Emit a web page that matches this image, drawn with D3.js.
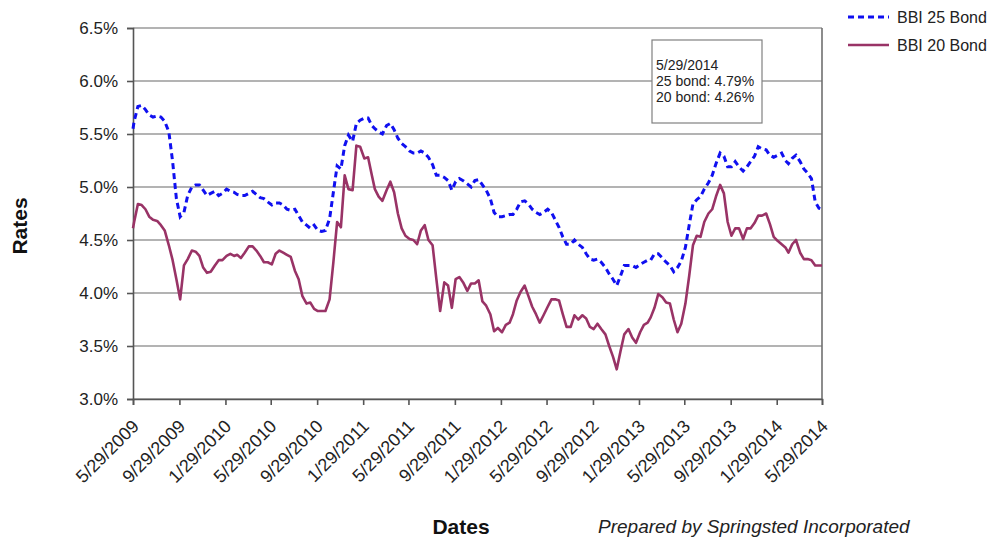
<!DOCTYPE html>
<html lang="en">
<head>
    <meta charset="UTF-8">
    <title>BBI 25 / BBI 20 Bond Rates</title>
    <style>
        body
        {
            margin: 0;
            background: #ffffff;
        }

        text
        {
            font-family: "Liberation Sans", Arial, sans-serif;
            fill: #222222;
        }

        .tick-label
        {
            font-size: 17px;
        }

        .axis-title
        {
            font-size: 21px;
            font-weight: bold;
            fill: #111111;
        }
    </style>
</head>
<body>

    <svg width="990" height="538"></svg>

    <script src="https://d3js.org/d3.v7.min.js"></script>

    <script>

        // Dates of the readings (about every ten days)
        const dates = [
            '2009-05-29', '2009-06-01', '2009-06-11', '2009-06-21', '2009-07-01', '2009-07-11', '2009-07-21',
            '2009-08-01', '2009-08-11', '2009-08-21', '2009-09-01', '2009-09-11', '2009-09-21',
            '2009-10-01', '2009-10-11', '2009-10-21', '2009-11-01', '2009-11-11', '2009-11-21',
            '2009-12-01', '2009-12-11', '2009-12-21', '2010-01-01', '2010-01-11', '2010-01-21',
            '2010-02-01', '2010-02-11', '2010-02-21', '2010-03-01', '2010-03-11', '2010-03-21',
            '2010-04-01', '2010-04-11', '2010-04-21', '2010-05-01', '2010-05-11', '2010-05-21',
            '2010-06-01', '2010-06-11', '2010-06-21', '2010-07-01', '2010-07-11', '2010-07-21',
            '2010-08-01', '2010-08-11', '2010-08-21', '2010-09-01', '2010-09-11', '2010-09-21',
            '2010-10-01', '2010-10-11', '2010-10-21', '2010-11-01', '2010-11-11', '2010-11-21',
            '2010-12-01', '2010-12-11', '2010-12-21', '2011-01-01', '2011-01-11', '2011-01-21',
            '2011-02-01', '2011-02-11', '2011-02-21', '2011-03-01', '2011-03-11', '2011-03-21',
            '2011-04-01', '2011-04-11', '2011-04-21', '2011-05-01', '2011-05-11', '2011-05-21',
            '2011-06-01', '2011-06-11', '2011-06-21', '2011-07-01', '2011-07-11', '2011-07-21',
            '2011-08-01', '2011-08-11', '2011-08-21', '2011-09-01', '2011-09-11', '2011-09-21',
            '2011-10-01', '2011-10-11', '2011-10-21', '2011-11-01', '2011-11-11', '2011-11-21',
            '2011-12-01', '2011-12-11', '2011-12-21', '2012-01-01', '2012-01-11', '2012-01-21',
            '2012-02-01', '2012-02-11', '2012-02-21', '2012-03-01', '2012-03-11', '2012-03-21',
            '2012-04-01', '2012-04-11', '2012-04-21', '2012-05-01', '2012-05-11', '2012-05-21',
            '2012-06-01', '2012-06-11', '2012-06-21', '2012-07-01', '2012-07-11', '2012-07-21',
            '2012-08-01', '2012-08-11', '2012-08-21', '2012-09-01', '2012-09-11', '2012-09-21',
            '2012-10-01', '2012-10-11', '2012-10-21', '2012-11-01', '2012-11-11', '2012-11-21',
            '2012-12-01', '2012-12-11', '2012-12-21', '2013-01-01', '2013-01-11', '2013-01-21',
            '2013-02-01', '2013-02-11', '2013-02-21', '2013-03-01', '2013-03-11', '2013-03-21',
            '2013-04-01', '2013-04-11', '2013-04-21', '2013-05-01', '2013-05-11', '2013-05-21',
            '2013-06-01', '2013-06-11', '2013-06-21', '2013-07-01', '2013-07-11', '2013-07-21',
            '2013-08-01', '2013-08-11', '2013-08-21', '2013-09-01', '2013-09-11', '2013-09-21',
            '2013-10-01', '2013-10-11', '2013-10-21', '2013-11-01', '2013-11-11', '2013-11-21',
            '2013-12-01', '2013-12-11', '2013-12-21', '2014-01-01', '2014-01-11', '2014-01-21',
            '2014-02-01', '2014-02-11', '2014-02-21', '2014-03-01', '2014-03-11', '2014-03-21',
            '2014-04-01', '2014-04-11', '2014-04-21', '2014-05-01', '2014-05-11', '2014-05-21',
            '2014-05-29'
        ];

        // BBI 25 Bond index, percent
        const bbi25 = [
            5.55, 5.62, 5.76, 5.77, 5.73, 5.68, 5.66,
            5.67, 5.66, 5.62, 5.52, 5.24, 4.89,
            4.72, 4.76, 4.92, 5.00, 5.02, 5.02,
            4.97, 4.92, 4.94, 4.96, 4.92, 4.94,
            4.98, 4.96, 4.95, 4.93, 4.92, 4.92,
            4.94, 4.96, 4.93, 4.90, 4.89, 4.86,
            4.83, 4.85, 4.85, 4.83, 4.79, 4.78,
            4.79, 4.73, 4.67, 4.64, 4.61, 4.64,
            4.59, 4.58, 4.59, 4.70, 4.95, 5.20,
            5.17, 5.39, 5.49, 5.43, 5.60, 5.63,
            5.65, 5.65, 5.58, 5.55, 5.52, 5.50,
            5.58, 5.60, 5.54, 5.46, 5.41, 5.38,
            5.34, 5.32, 5.32, 5.34, 5.32, 5.28,
            5.21, 5.11, 5.11, 5.09, 5.06, 4.97,
            5.05, 5.08, 5.06, 5.03, 5.00, 5.06,
            5.07, 5.02, 4.97, 4.89, 4.76, 4.72,
            4.72, 4.73, 4.74, 4.74, 4.79, 4.86,
            4.87, 4.84, 4.79, 4.76, 4.74, 4.76,
            4.79, 4.76, 4.69, 4.62, 4.53, 4.46,
            4.46, 4.50, 4.46, 4.43, 4.37, 4.32,
            4.31, 4.32, 4.29, 4.24, 4.18, 4.13,
            4.07, 4.16, 4.26, 4.26, 4.26, 4.24,
            4.27, 4.29, 4.31, 4.31, 4.37, 4.37,
            4.33, 4.29, 4.26, 4.20, 4.24, 4.30,
            4.43, 4.64, 4.84, 4.88, 4.91, 4.98,
            5.04, 5.11, 5.22, 5.32, 5.29, 5.19,
            5.19, 5.24, 5.19, 5.15, 5.19, 5.24,
            5.29, 5.38, 5.36, 5.35, 5.30, 5.28,
            5.30, 5.32, 5.25, 5.22, 5.27, 5.30,
            5.24, 5.17, 5.13, 5.08, 4.86, 4.80,
            4.79
        ];

        // BBI 20 Bond index, percent
        const bbi20 = [
            4.61, 4.67, 4.84, 4.83, 4.79, 4.72, 4.69,
            4.68, 4.64, 4.59, 4.45, 4.31, 4.13,
            3.94, 4.26, 4.32, 4.40, 4.39, 4.35,
            4.24, 4.19, 4.20, 4.26, 4.31, 4.31,
            4.35, 4.37, 4.35, 4.36, 4.33, 4.38,
            4.44, 4.44, 4.40, 4.35, 4.29, 4.29,
            4.27, 4.37, 4.40, 4.38, 4.36, 4.34,
            4.21, 4.13, 3.97, 3.90, 3.91, 3.85,
            3.83, 3.83, 3.83, 3.94, 4.29, 4.67,
            4.62, 5.11, 4.98, 4.97, 5.39, 5.38,
            5.27, 5.28, 5.11, 4.98, 4.91, 4.87,
            4.97, 5.05, 4.95, 4.75, 4.61, 4.54,
            4.51, 4.50, 4.46, 4.59, 4.64, 4.50,
            4.45, 4.13, 3.83, 4.10, 4.07, 3.86,
            4.13, 4.15, 4.10, 4.02, 4.09, 4.09,
            4.12, 3.92, 3.88, 3.80, 3.64, 3.67,
            3.63, 3.70, 3.72, 3.80, 3.93, 4.01,
            4.07, 3.97, 3.87, 3.80, 3.72, 3.79,
            3.87, 3.94, 3.94, 3.93, 3.80, 3.68,
            3.68, 3.79, 3.75, 3.79, 3.76, 3.68,
            3.66, 3.71, 3.66, 3.61, 3.50, 3.40,
            3.28, 3.45, 3.61, 3.66, 3.58, 3.53,
            3.63, 3.70, 3.72, 3.77, 3.86, 3.99,
            3.96, 3.91, 3.90, 3.75, 3.63, 3.71,
            3.90, 4.16, 4.45, 4.54, 4.53, 4.67,
            4.75, 4.79, 4.91, 5.02, 4.94, 4.67,
            4.54, 4.61, 4.61, 4.51, 4.61, 4.61,
            4.66, 4.73, 4.73, 4.75, 4.65, 4.53,
            4.49, 4.46, 4.43, 4.38, 4.46, 4.50,
            4.38, 4.32, 4.32, 4.31, 4.26, 4.26,
            4.26
        ];

        // Axis tick values
        const xTickDates = [
            '2009-05-29', '2009-09-29', '2010-01-29', '2010-05-29', '2010-09-29', '2011-01-29',
            '2011-05-29', '2011-09-29', '2012-01-29', '2012-05-29', '2012-09-29', '2013-01-29',
            '2013-05-29', '2013-09-29', '2014-01-29', '2014-05-29'
        ];
        const yTickValues = [3.0, 3.5, 4.0, 4.5, 5.0, 5.5, 6.0, 6.5];

        const seriesNames = ['BBI 25 Bond', 'BBI 20 Bond'];
        const noteLines = ['5/29/2014', '25 bond: 4.79%', '20 bond: 4.26%'];

        const blue = '#1010f0';
        const plum = '#993366';

        const plot = { left: 133, right: 822, top: 28, bottom: 399 };

        const parseDate = d3.timeParse('%Y-%m-%d');
        const formatDate = d3.timeFormat('%-m/%-d/%Y');

        const svg = d3.select('svg');

        const xScale = d3.scaleTime()
            .domain([parseDate(dates[0]), parseDate(dates[dates.length - 1])])
            .range([plot.left, plot.right]);

        const yScale = d3.scaleLinear()
            .domain([3.0, 6.5])
            .range([plot.bottom, plot.top]);

        // Horizontal gridlines
        svg.append('g')
            .selectAll('line')
            .data(yTickValues)
            .join('line')
            .attr('x1', plot.left)
            .attr('x2', plot.right)
            .attr('y1', d => yScale(d))
            .attr('y2', d => yScale(d))
            .attr('stroke', '#9a9a9a')
            .attr('stroke-width', 1.6);

        // Right border of the plot area
        svg.append('line')
            .attr('x1', plot.right)
            .attr('x2', plot.right)
            .attr('y1', plot.top)
            .attr('y2', plot.bottom)
            .attr('stroke', '#707070')
            .attr('stroke-width', 1.6);

        // y axis
        const yAxis = d3.axisLeft(yScale)
            .tickValues(yTickValues)
            .tickSize(6)
            .tickPadding(9)
            .tickFormat(d => d.toFixed(1) + '%');

        const yAxisG = svg.append('g')
            .attr('transform', 'translate(' + plot.left + ',0)')
            .call(yAxis);

        yAxisG.selectAll('text')
            .attr('class', 'tick-label')
            .attr('font-family', null)
            .attr('font-size', null);

        // x axis, labels slanted up to the right
        const xAxis = d3.axisBottom(xScale)
            .tickValues(xTickDates.map(parseDate))
            .tickSize(6)
            .tickFormat(formatDate);

        const xAxisG = svg.append('g')
            .attr('transform', 'translate(0,' + plot.bottom + ')')
            .call(xAxis);

        xAxisG.selectAll('text')
            .attr('class', 'tick-label')
            .attr('font-family', null)
            .attr('font-size', null)
            .style('font-size', '18px')
            .attr('text-anchor', 'end')
            .attr('x', 0)
            .attr('y', 0)
            .attr('dy', '0.35em')
            .attr('transform', 'translate(2,24) rotate(-45)');

        svg.selectAll('.domain, .tick line')
            .attr('stroke', '#555555')
            .attr('stroke-width', 1.6);

        // Series lines
        const rows = dates.map((d, i) => ({ date: parseDate(d), b25: bbi25[i], b20: bbi20[i] }));

        const line25 = d3.line()
            .x(d => xScale(d.date))
            .y(d => yScale(d.b25));

        const line20 = d3.line()
            .x(d => xScale(d.date))
            .y(d => yScale(d.b20));

        svg.append('path')
            .attr('d', line20(rows))
            .attr('fill', 'none')
            .attr('stroke', plum)
            .attr('stroke-width', 2.6)
            .attr('stroke-linejoin', 'round');

        svg.append('path')
            .attr('d', line25(rows))
            .attr('fill', 'none')
            .attr('stroke', blue)
            .attr('stroke-width', 3)
            .attr('stroke-dasharray', '6,4');

        // Annotation box
        const note = svg.append('g')
            .attr('transform', 'translate(652,40)');

        note.append('rect')
            .attr('width', 110)
            .attr('height', 83)
            .attr('fill', '#ffffff')
            .attr('stroke', '#808080')
            .attr('stroke-width', 1.2);

        note.selectAll('text')
            .data(noteLines)
            .join('text')
            .attr('x', 4)
            .attr('y', (d, i) => 30 + i * 16)
            .style('font-size', '14px')
            .text(d => d);

        // Legend
        const legend = svg.append('g')
            .attr('transform', 'translate(848,17)');

        const legendItems = legend.selectAll('g')
            .data(seriesNames)
            .join('g')
            .attr('transform', (d, i) => 'translate(0,' + i * 28 + ')');

        legendItems.append('line')
            .attr('x1', 0)
            .attr('x2', 41)
            .attr('stroke', (d, i) => i === 0 ? blue : plum)
            .attr('stroke-width', (d, i) => i === 0 ? 3 : 2.6)
            .attr('stroke-dasharray', (d, i) => i === 0 ? '6,4' : null);

        legendItems.append('text')
            .attr('x', 49)
            .attr('dy', '0.35em')
            .style('font-size', '16px')
            .text(d => d);

        // Axis titles
        svg.append('text')
            .attr('class', 'axis-title')
            .attr('transform', 'translate(27,226) rotate(-90)')
            .attr('text-anchor', 'middle')
            .text('Rates');

        svg.append('text')
            .attr('class', 'axis-title')
            .attr('x', 461)
            .attr('y', 534)
            .attr('text-anchor', 'middle')
            .text('Dates');

        svg.append('text')
            .attr('x', 598)
            .attr('y', 533)
            .style('font-size', '19px')
            .style('font-style', 'italic')
            .text('Prepared by Springsted Incorporated');

    </script>

</body>
</html>
